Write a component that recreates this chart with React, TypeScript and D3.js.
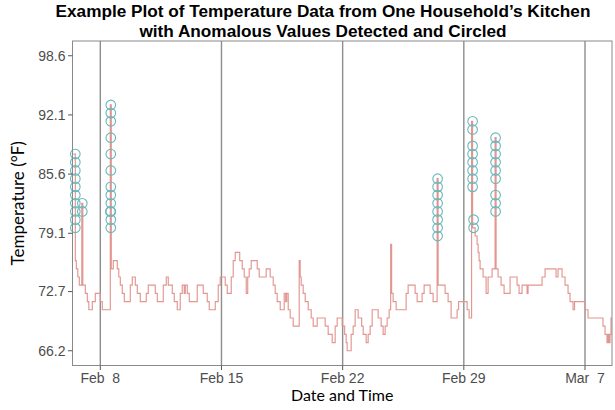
import React from "react";
import * as d3 from "d3";

const W = 615;
const H = 410;

// Step breakpoints: fractional day-of-February 2016 (30 = Mar 1) and temperature in °C
const stepDay = [
  6.441, 6.557, 6.614, 6.701, 6.787, 6.932, 6.99, 7.134, 7.249, 7.336, 7.538, 7.711, 8.0, 8.115,
  8.577, 8.635, 8.751, 8.982, 9.068, 9.155, 9.27, 9.386, 9.732, 9.848, 10.021, 10.136, 10.309,
  10.656, 10.771, 11.176, 11.291, 11.637, 11.811, 11.926, 12.157, 12.273, 12.446, 12.619, 12.734,
  12.85, 12.908, 13.023, 13.139, 13.6, 13.947, 14.178, 14.293, 14.64, 14.813, 14.928, 15.217,
  15.333, 15.564, 15.679, 15.794, 16.054, 16.199, 16.314, 16.43, 16.516, 16.603, 16.718, 17.065,
  17.18, 17.584, 17.815, 17.989, 18.104, 18.219, 18.393, 18.624, 18.71, 18.768, 18.855, 18.97,
  19.143, 19.49, 19.547, 19.605, 19.721, 19.836, 20.009, 20.183, 20.298, 20.529, 20.991, 21.164,
  21.397, 21.568, 21.684, 21.973, 22.117, 22.203, 22.261, 22.492, 22.607, 22.723, 22.896, 23.098,
  23.185, 23.358, 23.473, 23.589, 23.704, 24.051, 24.224, 24.339, 24.455, 24.57, 24.686, 24.773,
  24.83, 24.917, 25.09, 25.667, 25.783, 26.187, 26.303, 26.591, 26.707, 27.053, 27.226, 27.457,
  27.515, 27.919, 28.092, 28.266, 28.612, 28.699, 29.19, 29.305, 29.449, 29.507, 29.651, 29.767,
  29.825, 29.882, 29.94, 30.113, 30.287, 30.402, 30.633, 30.806, 30.864, 30.979, 31.152, 31.326,
  31.672, 32.076, 32.192, 32.365, 32.654, 32.711, 33.52, 33.693, 34.328, 34.444, 34.675, 34.848,
  35.021, 35.136, 35.309, 35.396, 36.002, 36.175, 37.041, 37.157, 37.272, 37.33, 37.388, 37.446,
  37.503, 37.561,
];
const stepTempC = [
  31, 24.5, 24, 23.5, 23, 28, 23, 22.5, 22, 21.5, 22, 22.5, 22, 21.5,
  34, 24, 24.5, 24, 23.5, 23, 22.5, 22, 23, 23.5, 23, 22.5, 22,
  22.5, 23, 22.5, 22, 23, 23.5, 23, 22.5, 22, 21.5, 22.5, 23,
  22.5, 23, 22.5, 22, 23, 22.5, 22, 21.5, 22, 23, 23.5, 23,
  22.5, 23.5, 24.5, 25, 24.5, 24, 23.5, 22.5, 23.5, 24, 24.5, 24,
  23.5, 24, 23.5, 23, 22.5, 22, 21.5, 22.5, 22, 22.5, 21.5, 21,
  20.5, 24.5, 23.5, 23, 22.5, 22, 21.5, 21, 20.5, 21, 20.5, 20,
  19.5, 20.5, 21, 20.5, 20, 19.5, 19, 20, 20.5, 21.5, 21, 20.5,
  20, 19.5, 20, 20.5, 21.5, 21, 20.5, 20, 20.5, 21, 21.5, 25.5,
  22.5, 22, 21.5, 22.5, 23, 22.5, 22, 22.5, 23, 22.5, 22, 29.5,
  23, 22.5, 22, 21, 21.5, 22, 21.5, 21, 33, 26.5, 26, 25.5,
  25, 24.5, 24, 23.5, 22.5, 23.5, 24, 32, 24, 23.5, 23, 22.5,
  23.5, 23, 22.5, 23, 22.5, 23, 23.5, 24, 23.5, 24, 23.5, 23,
  22.5, 22, 21.5, 22, 21.5, 21, 20.5, 20, 19.5, 20, 19.5, 20,
  21, 21,
];

// Anomalous readings (circled)
const anomalyDay = [
  6.557, 6.557, 6.557, 6.557, 6.557, 6.557, 6.557, 6.557, 6.557, 6.557,
  6.961, 6.961,
  8.606, 8.606, 8.606, 8.58, 8.606, 8.606, 8.606, 8.606, 8.606, 8.606, 8.606, 8.606, 8.606,
  27.486, 27.486, 27.486, 27.486, 27.486, 27.486, 27.486, 27.486,
  29.507, 29.507, 29.507, 29.507, 29.507, 29.507, 29.507, 29.507, 29.565, 29.565,
  30.835, 30.835, 30.835, 30.835, 30.835, 30.835, 30.835, 30.835, 30.835,
];
const anomalyTempC = [
  26.5, 27, 27.5, 28, 28.5, 29, 29.5, 30, 30.5, 31,
  27.5, 28,
  26.5, 27, 27.5, 27.5, 28, 28.5, 29, 30, 31, 32, 33, 33.5, 34,
  26, 26.5, 27, 27.5, 28, 28.5, 29, 29.5,
  29, 29.5, 30, 30.5, 31, 31.5, 32.5, 33, 26.5, 27,
  27.5, 28, 28.5, 29.5, 30, 30.5, 31, 31.5, 32,
];

const yTickValues = [66.2, 72.7, 79.1, 85.6, 92.1, 98.6];
const yTickLabels = ["66.2", "72.7", "79.1", "85.6", "92.1", "98.6"];
const xTickDates = ["2016-02-08", "2016-02-15", "2016-02-22", "2016-02-29", "2016-03-07"];

const titleLines = [
  "Example Plot of Temperature Data from One Household\u2019s Kitchen",
  "with Anomalous Values Detected and Circled",
];

const toDate = (d: number) => new Date(Date.UTC(2016, 1, 1) + (d - 1) * 864e5);
const toF = (c: number) => c * 1.8 + 32;

export default function App() {
  const left = 72.5;
  const right = 612;
  const top = 41;
  const bottom = 365.5;

  const x = d3
    .scaleUtc()
    .domain([toDate(6.394), toDate(37.56)])
    .range([left, right]);
  const y = d3.scaleLinear().domain([64.58, 100.22]).range([bottom, top]);

  const pts = stepDay.map((d, i) => ({ t: toDate(d), v: toF(stepTempC[i]) }));
  const line = d3
    .line<{ t: Date; v: number }>()
    .x((p) => x(p.t))
    .y((p) => y(p.v))
    .curve(d3.curveStepAfter);

  const xTicks = xTickDates.map((s) => new Date(s + "T00:00:00Z"));
  const fmt = d3.utcFormat("%b %e");

  const lineColor = "#e29690";
  const circleColor = "#68b7bc";
  const gridColor = "#8e8e8e";

  return (
    <svg width={W} height={H} style={{ display: "block", position: "absolute", left: 0, top: 0 }}>
      <rect x={0} y={0} width={W} height={H} fill="#fff" />
      {titleLines.map((t, i) => (
        <text
          key={i}
          x={323}
          y={17 + i * 19.5}
          textAnchor="middle"
          fontFamily="Liberation Sans, Arial, sans-serif"
          fontWeight="bold"
          fontSize={17.2}
          fill="#000"
        >
          {t}
        </text>
      ))}
      <g>
        {xTicks.map((t, i) => (
          <line key={i} x1={x(t)} x2={x(t)} y1={top} y2={bottom} stroke={gridColor} strokeWidth={1.4} />
        ))}
        <path d={line(pts) || ""} fill="none" stroke={lineColor} strokeWidth={1.15} />
        {anomalyDay.map((d, i) => (
          <circle
            key={i}
            cx={x(toDate(d))}
            cy={y(toF(anomalyTempC[i]))}
            r={4.8}
            fill="none"
            stroke={circleColor}
            strokeWidth={1.1}
          />
        ))}
        <rect
          x={left}
          y={top}
          width={right - left}
          height={bottom - top}
          fill="none"
          stroke="#8a8a8a"
          strokeWidth={1}
        />
      </g>
      <g>
        {yTickValues.map((v, i) => (
          <g key={i}>
            <line x1={left - 4.5} x2={left} y1={y(v)} y2={y(v)} stroke="#555" strokeWidth={1} />
            <text
              x={left - 7}
              y={y(v)}
              dy="0.35em"
              textAnchor="end"
              fontFamily="Liberation Sans, Arial, sans-serif"
              fontSize={14}
              fill="#4d4d4d"
            >
              {yTickLabels[i]}
            </text>
          </g>
        ))}
        {xTicks.map((t, i) => (
          <g key={i}>
            <line x1={x(t)} x2={x(t)} y1={bottom} y2={bottom + 4.5} stroke="#555" strokeWidth={1} />
            <text
              x={x(t)}
              y={bottom + 17}
              textAnchor="middle"
              fontFamily="Liberation Sans, Arial, sans-serif"
              fontSize={14}
              fill="#4d4d4d"
              style={{ whiteSpace: "pre" }}
            >
              {fmt(t)}
            </text>
          </g>
        ))}
      </g>
      <text
        x={(left + right) / 2}
        y={401}
        textAnchor="middle"
        fontFamily="Lato, Open Sans, sans-serif"
        fontSize={16}
        fill="#000"
      >
        Date and Time
      </text>
      <text
        transform={`translate(24, ${(top + bottom) / 2}) rotate(-90)`}
        textAnchor="middle"
        fontFamily="Lato, Open Sans, sans-serif"
        fontSize={17}
        fill="#000"
      >
        Temperature (°F)
      </text>
    </svg>
  );
}
